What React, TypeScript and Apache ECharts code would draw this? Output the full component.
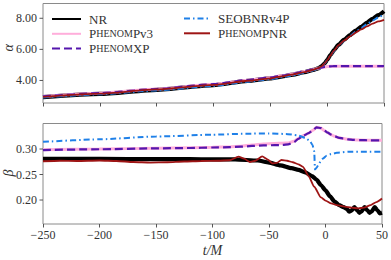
import React, { useEffect, useRef } from "react";
import * as echarts from "echarts";

// ---- alpha panel data ----
const tAlpha = [-250, -200, -150, -100, -70, -50, -40, -30, -20, -12, -8, -5, -2, 0, 3, 6, 10, 15, 20, 25, 30, 35, 40, 45, 50];
const alphaNR = [2.93, 3.14, 3.4, 3.7, 3.97, 4.13, 4.25, 4.38, 4.53, 4.68, 4.78, 4.9, 5.12, 5.32, 5.65, 5.95, 6.3, 6.62, 6.92, 7.2, 7.45, 7.72, 7.97, 8.2, 8.45];
const alphaPv3 = [2.97, 3.18, 3.45, 3.75, 4.02, 4.18, 4.3, 4.42, 4.57, 4.7, 4.78, 4.84, 4.87, 4.89, 4.91, 4.92, 4.92, 4.92, 4.92, 4.92, 4.92, 4.92, 4.92, 4.92, 4.92];
const alphaXP = [2.97, 3.18, 3.45, 3.76, 4.03, 4.19, 4.31, 4.43, 4.58, 4.71, 4.78, 4.83, 4.87, 4.89, 4.91, 4.92, 4.92, 4.92, 4.92, 4.92, 4.92, 4.92, 4.92, 4.92, 4.92];
const alphaSEOB = [2.91, 3.11, 3.36, 3.65, 3.92, 4.08, 4.2, 4.33, 4.5, 4.66, 4.77, 4.89, 5.1, 5.3, 5.6, 5.9, 6.24, 6.56, 6.86, 7.13, 7.37, 7.62, 7.85, 8.06, 8.27];
const alphaPNR = [2.94, 3.15, 3.42, 3.71, 3.98, 4.14, 4.26, 4.39, 4.54, 4.69, 4.79, 4.91, 5.12, 5.3, 5.62, 5.92, 6.27, 6.57, 6.83, 7.07, 7.28, 7.48, 7.66, 7.8, 7.9];

// ---- beta panel data ----
const tBetaNR = [-250, -200, -150, -120, -100, -80, -60, -50, -40, -30, -24, -18, -12, -8, -4, 0, 4, 8, 12, 16, 19, 21, 23, 25.5, 28, 30, 32, 34.5, 37, 39, 41, 43.5, 46, 48, 50];
const betaNR = [0.2805, 0.2805, 0.2803, 0.28, 0.2798, 0.2795, 0.2775, 0.2735, 0.268, 0.2625, 0.259, 0.254, 0.247, 0.24, 0.229, 0.219, 0.207, 0.197, 0.19, 0.186, 0.182, 0.177, 0.179, 0.186, 0.18, 0.175, 0.178, 0.186, 0.18, 0.175, 0.178, 0.186, 0.18, 0.174, 0.175];

const tBetaPNR = [-250, -235, -220, -200, -185, -170, -155, -140, -125, -110, -95, -85, -77, -72, -67, -62, -56, -51, -47, -43, -39, -34, -29, -24, -20, -15, -10, -4, 0, 5, 10, 17, 23, 29, 34, 40, 45, 50];
const betaPNR = [0.276, 0.277, 0.2765, 0.2775, 0.2765, 0.2745, 0.2735, 0.274, 0.2755, 0.2765, 0.277, 0.278, 0.285, 0.281, 0.2745, 0.277, 0.2855, 0.279, 0.272, 0.273, 0.2785, 0.277, 0.274, 0.27, 0.265, 0.247, 0.226, 0.205, 0.199, 0.1935, 0.19, 0.187, 0.185, 0.1837, 0.185, 0.19, 0.196, 0.203];

const tBetaPrec = [-250, -200, -150, -120, -100, -85, -75, -65, -55, -45, -38, -33, -28, -24, -20, -15, -11, -8, -4, -1, 2, 5, 8, 12, 16, 20, 25, 30, 40, 50];
const betaXP = [0.298, 0.2995, 0.3013, 0.302, 0.303, 0.3035, 0.3045, 0.306, 0.307, 0.3075, 0.308, 0.309, 0.313, 0.32, 0.3255, 0.331, 0.337, 0.3425, 0.341, 0.336, 0.332, 0.328, 0.325, 0.322, 0.3205, 0.319, 0.318, 0.3175, 0.317, 0.317];
const betaPv3 = [0.2985, 0.3, 0.3015, 0.3025, 0.3035, 0.304, 0.3055, 0.308, 0.31, 0.311, 0.3115, 0.312, 0.315, 0.3205, 0.3258, 0.331, 0.337, 0.3425, 0.341, 0.336, 0.332, 0.328, 0.325, 0.322, 0.3205, 0.319, 0.318, 0.3175, 0.317, 0.317];

const tBetaSEOB = [-250, -200, -150, -100, -70, -50, -35, -25, -18, -14, -11.5, -10, -9.3, -8, -6, -4, -2, 1, 5, 10, 20, 35, 50];
const betaSEOB = [0.314, 0.319, 0.3245, 0.328, 0.33, 0.3305, 0.3295, 0.327, 0.322, 0.316, 0.308, 0.296, 0.26, 0.263, 0.27, 0.277, 0.282, 0.287, 0.29, 0.2925, 0.2945, 0.2948, 0.2948];

const alphaTicks = [4, 6, 8];
const betaTicks = [0.2, 0.25, 0.3];

const NAMES = ["NR", "PhenomPv3", "PhenomXP", "SEOBNRv4P", "PhenomPNR"];
const LABELS: Record<string, string> = {
  NR: "{b|NR}",
  PhenomPv3: "{b|P}{s|HENOM}{b|Pv3}",
  PhenomXP: "{b|P}{s|HENOM}{b|XP}",
  SEOBNRv4P: "{b|SEOBNRv4P}",
  PhenomPNR: "{b|P}{s|HENOM}{b|PNR}",
};

const STYLES: Record<string, any> = {
  NR: { color: "#000000", width: 4.2, type: "solid" },
  PhenomPv3: { color: "#ffaedb", width: 3, type: "solid" },
  PhenomXP: { color: "#5516ad", width: 2.2, type: [8, 4] },
  SEOBNRv4P: { color: "#1f80e8", width: 2, type: [6, 3, 1.5, 3] },
  PhenomPNR: { color: "#9e1515", width: 1.8, type: "solid" },
};

const zip = (t: number[], v: number[]) => t.map((x, i) => [x, v[i]]);

const SERIF = "'Liberation Serif', 'DejaVu Serif', serif";

export default function App() {
  const ref = useRef<HTMLDivElement>(null);
  useEffect(() => {
    if (!ref.current) return;
    const chart = echarts.init(ref.current, null, { renderer: "svg" });
    const mk = (name: string, data: number[][], panel: number) => ({
      name,
      type: "line",
      xAxisIndex: panel,
      yAxisIndex: panel,
      data,
      symbol: "none",
      showSymbol: false,
      smooth: 0.2,
      smoothMonotone: "x",
      lineStyle: { ...STYLES[name] },
      itemStyle: { color: STYLES[name].color },
      z: 2 + NAMES.indexOf(name),
    });
    const xAxisBase = (idx: number, showLabel: boolean) => ({
      type: "value",
      gridIndex: idx,
      min: -250,
      max: 50,
      interval: 50,
      axisLine: { show: false },
      axisTick: { show: true, length: 3.5, lineStyle: { color: "#555" } },
      splitLine: { show: false },
      axisLabel: {
        show: showLabel,
        fontFamily: SERIF,
        fontSize: 12,
        color: "#333",
        margin: 5,
        formatter: (v: number) => String(v).replace("-", "\u2212"),
      },
    });
    const gridBorder = { show: true, borderColor: "#8a8a8a", borderWidth: 1, backgroundColor: "transparent" };
    const yAxisBase = (idx: number, min: number, max: number) => ({
      type: "value",
      gridIndex: idx,
      min,
      max,
      axisLine: { show: false },
      splitLine: { show: false },
      axisTick: { show: false },
      axisLabel: { show: false },
    });
    const legendText = {
      fontFamily: SERIF,
      color: "#333",
      padding: [0, 0, 0, 3],
      rich: {
        b: { fontSize: 13, fontFamily: SERIF, color: "#333" },
        s: { fontSize: 10, fontFamily: SERIF, color: "#333" },
      },
    };
    const option: any = {
      animation: false,
      grid: [
        { left: 43, top: 3.5, width: 341, height: 99.5, ...gridBorder },
        { left: 43, top: 123.5, width: 341, height: 100.5, ...gridBorder },
      ],
      xAxis: [
        xAxisBase(0, false),
        {
          ...xAxisBase(1, true),
          name: "t/M",
          nameLocation: "middle",
          nameGap: 19,
          nameTextStyle: { fontFamily: SERIF, fontStyle: "italic", fontSize: 14, color: "#333" },
        },
      ],
      yAxis: [yAxisBase(0, 2.55, 8.95), yAxisBase(1, 0.153, 0.35)],
      legend: [
        {
          data: ["NR", "PhenomPv3", "PhenomXP"],
          orient: "vertical",
          left: 51,
          top: 12.5,
          padding: 0,
          itemWidth: 29,
          itemHeight: 14,
          itemGap: 1.8,
          itemStyle: { opacity: 0 },
          formatter: (n: string) => LABELS[n],
          textStyle: legendText,
        },
        {
          data: ["SEOBNRv4P", "PhenomPNR"],
          orient: "vertical",
          left: 183,
          top: 12,
          padding: 0,
          itemWidth: 26,
          itemHeight: 14,
          itemGap: 1.8,
          itemStyle: { opacity: 0 },
          formatter: (n: string) => LABELS[n],
          textStyle: legendText,
        },
      ],
      series: [
        mk("NR", zip(tAlpha, alphaNR), 0),
        mk("PhenomPv3", zip(tAlpha, alphaPv3), 0),
        mk("PhenomXP", zip(tAlpha, alphaXP), 0),
        mk("SEOBNRv4P", zip(tAlpha, alphaSEOB), 0),
        mk("PhenomPNR", zip(tAlpha, alphaPNR), 0),
        mk("NR", zip(tBetaNR, betaNR), 1),
        mk("PhenomPv3", zip(tBetaPrec, betaPv3), 1),
        mk("PhenomXP", zip(tBetaPrec, betaXP), 1),
        mk("SEOBNRv4P", zip(tBetaSEOB, betaSEOB), 1),
        mk("PhenomPNR", zip(tBetaPNR, betaPNR), 1),
      ],
    };
    chart.setOption(option);
    // y-axis tick marks, labels and names, placed through the library's own scales
    const els: any[] = [];
    const addAxis = (axisIndex: number, ticks: number[], name: string, mid: number, nameX: number) => {
      ticks.forEach((v) => {
        const y = chart.convertToPixel({ yAxisIndex: axisIndex }, v) as number;
        els.push({
          type: "line",
          shape: { x1: 39.5, y1: y, x2: 43, y2: y },
          style: { stroke: "#555", lineWidth: 1 },
          silent: true,
        });
        els.push({
          type: "text",
          x: 37,
          y,
          silent: true,
          style: {
            text: v.toFixed(2),
            align: "right",
            verticalAlign: "middle",
            fontFamily: SERIF,
            fontSize: 12,
            fill: "#333",
          },
        });
      });
      const ym = chart.convertToPixel({ yAxisIndex: axisIndex }, mid) as number;
      els.push({
        type: "text",
        x: nameX,
        y: ym,
        rotation: Math.PI / 2,
        silent: true,
        style: {
          text: name,
          align: "center",
          verticalAlign: "middle",
          fontFamily: SERIF,
          fontStyle: "italic",
          fontSize: 14,
          fill: "#333",
        },
      });
    };
    addAxis(0, alphaTicks, "α", 6.1, 8);
    addAxis(1, betaTicks, "β", 0.253, 8);
    chart.setOption({ graphic: els });
    return () => chart.dispose();
  }, []);
  return (
    <div
      ref={ref}
      style={{ position: "absolute", left: 0, top: 0, width: 391, height: 260, background: "#fff" }}
    />
  );
}
